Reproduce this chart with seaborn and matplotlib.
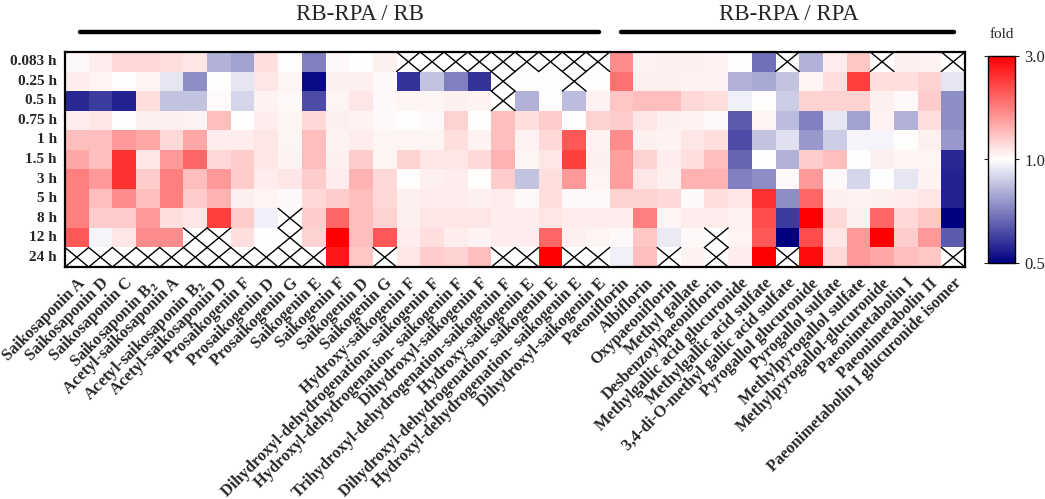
import numpy as np
import pandas as pd
import seaborn as sns
import matplotlib.pyplot as plt
from matplotlib.colors import LinearSegmentedColormap, TwoSlopeNorm
from matplotlib.lines import Line2D

nan = np.nan

times = ["0.083 h", "0.25 h", "0.5 h", "0.75 h", "1 h", "1.5 h", "3 h", "5 h", "8 h", "12 h", "24 h"]

rb_compounds = [
    "Saikosaponin A", "Saikosaponin D", "Saikosaponin C", r"Saikosaponin B$_\mathbf{2}$",
    "Acetyl-saikosaponin A", r"Acetyl-saikosaponin B$_\mathbf{2}$", "Acetyl-saikosaponin D",
    "Prosaikogenin F", "Prosaikogenin D", "Prosaikogenin G", "Saikogenin E", "Saikogenin F",
    "Saikogenin D", "Saikogenin G", "Hydroxy-saikogenin F",
    "Dihydroxyl-dehydrogenation- saikogenin F", "Hydroxyl-dehydrogenation- saikogenin F",
    "Dihydroxyl-saikogenin F", "Trihydroxyl-dehydrogenation-saikogenin F", "Hydroxy-saikogenin E",
    "Dihydroxyl-dehydrogenation- saikogenin E", "Hydroxyl-dehydrogenation- saikogenin E",
    "Dihydroxyl-saikogenin E",
]
rpa_compounds = [
    "Paeoniflorin", "Albiflorin", "Oxypaeoniflorin", "Methyl gallate", "Desbenzoylpaeoniflorin",
    "Methylgallic acid glucuronide", "Methylgallic acid sulfate",
    "3,4-di-O-methyl gallic acid sulfate", "Pyrogallol glucuronide", "Pyrogallol sulfate",
    "Methylpyrogallol sulfate", "Methylpyrogallol-glucuronide", "Paeonimetabolin I",
    "Paeonimetabolin II", "Paeonimetabolin I glucuronide isomer",
]

# fold change, rows = time points (nan = not detected)
rb_fold = [
    [1.05, 1.15, 1.3, 1.3, 1.25, 1.2, 0.85, 0.82, 1.25, 1.03, 0.75, 1.05, 1.0, 1.12, nan, nan, nan, nan, nan, nan, nan, nan, nan],
    [1.15, 1.08, 1.03, 1.08, 0.95, 0.78, 1.02, 0.95, 1.2, 1.08, 0.52, 1.12, 1.12, 1.05, 0.6, 0.88, 0.75, 0.6, nan, 1.02, 1.03, nan, 1.03],
    [0.58, 0.62, 0.57, 1.25, 0.88, 0.88, 1.04, 0.92, 1.1, 1.05, 0.65, 1.08, 1.2, 1.05, 1.08, 1.08, 1.12, 1.1, nan, 0.85, 1.03, 0.87, 1.1],
    [1.15, 1.2, 1.03, 1.12, 1.12, 1.1, 1.5, 1.0, 1.15, 1.08, 1.3, 1.12, 1.1, 1.05, 1.03, 1.05, 1.35, 1.0, 1.5, 1.25, 1.4, 1.03, 1.35],
    [1.5, 1.5, 1.8, 1.7, 1.3, 1.7, 1.15, 1.15, 1.2, 1.08, 1.5, 1.1, 1.15, 1.08, 1.08, 1.08, 1.25, 1.1, 1.5, 1.1, 1.3, 2.3, 1.1],
    [1.7, 1.5, 2.6, 1.2, 1.8, 2.2, 1.3, 1.4, 1.2, 1.1, 1.5, 1.12, 1.4, 1.08, 1.35, 1.2, 1.2, 1.3, 1.6, 1.08, 1.2, 2.5, 1.12],
    [2.0, 1.8, 2.6, 1.4, 2.0, 1.5, 1.8, 1.4, 1.15, 1.2, 1.4, 1.15, 1.6, 1.3, 1.03, 1.12, 1.15, 1.03, 1.4, 0.88, 1.25, 1.8, 1.08],
    [2.0, 1.5, 1.9, 1.5, 2.0, 1.4, 1.6, 1.12, 1.08, 1.05, 1.3, 1.4, 1.5, 1.3, 1.12, 1.15, 1.15, 1.12, 1.15, 1.05, 1.25, 1.05, 1.05],
    [2.0, 1.4, 1.4, 1.8, 1.25, 1.2, 2.5, 1.4, 0.97, nan, 1.4, 2.2, 1.5, 1.35, 1.12, 1.2, 1.2, 1.2, 1.15, 1.15, 1.2, 1.15, 1.15],
    [2.3, 0.98, 1.2, 1.9, 1.9, nan, nan, 1.25, 1.02, nan, 1.35, 3.0, 1.5, 2.3, 1.15, 1.25, 1.15, 1.1, 1.15, 1.15, 2.2, 1.12, 1.08],
    [nan, nan, nan, nan, nan, nan, nan, nan, nan, nan, nan, 2.8, 1.45, nan, 1.2, 1.4, 1.35, 1.5, nan, nan, 3.0, nan, nan],
]
rpa_fold = [
    [1.9, 1.1, 1.12, 1.12, 1.1, 1.03, 0.72, nan, 0.85, 1.15, 1.45, nan, 1.12, 1.1, nan],
    [2.1, 1.12, 1.12, 1.1, 1.1, 0.85, 0.83, 0.88, 1.08, 1.25, 2.5, 1.25, 1.25, 1.35, 0.95],
    [1.45, 1.5, 1.5, 1.3, 1.25, 0.97, 1.03, 0.9, 1.35, 1.35, 1.35, 1.12, 1.05, 1.4, 0.78],
    [1.4, 1.2, 1.12, 1.1, 1.05, 0.68, 1.08, 0.87, 0.75, 0.95, 0.82, 1.1, 0.85, 1.25, 0.78],
    [1.9, 1.12, 1.1, 1.2, 1.25, 0.65, 0.88, 0.94, 0.8, 0.9, 0.98, 0.98, 1.03, 1.12, 0.8],
    [1.75, 1.35, 1.15, 1.25, 1.5, 0.7, 1.0, 0.85, 1.4, 1.5, 1.0, 1.12, 1.08, 1.08, 0.58],
    [1.75, 1.2, 1.12, 1.6, 1.6, 0.75, 0.78, 1.05, 1.8, 1.05, 0.92, 1.0, 0.95, 1.1, 0.57],
    [1.35, 1.35, 1.3, 1.05, 1.25, 1.2, 2.6, 0.78, 2.2, 1.12, 1.1, 1.12, 1.15, 1.2, 0.57],
    [1.15, 2.0, 1.08, 1.15, 1.15, 1.1, 2.4, 0.62, 3.0, 1.3, 1.12, 2.2, 1.3, 1.45, 0.5],
    [1.05, 1.45, 0.96, 1.05, nan, 1.08, 2.3, 0.5, 2.4, 1.2, 1.8, 3.0, 1.4, 1.8, 0.68],
    [0.97, 1.5, nan, 1.1, nan, 1.15, 3.0, nan, 2.9, 1.3, 1.8, 1.7, 1.5, 1.45, nan],
]

df = pd.DataFrame(np.hstack([np.array(rb_fold), np.array(rpa_fold)]),
                  index=times, columns=rb_compounds + rpa_compounds)

sns.set_style("white")
plt.rcParams['font.family'] = ['Liberation Serif', 'DejaVu Serif']
plt.rcParams['mathtext.fontset'] = 'stix'

W, H = 1045, 499
fig = plt.figure(figsize=(W / 100, H / 100), dpi=100)
ax = fig.add_axes([65 / W, 1 - 267 / H, 900 / W, 215 / H])
cax = fig.add_axes([988 / W, 1 - 263 / H, 27 / W, 207 / H])

cmap = LinearSegmentedColormap.from_list("fold", ["#000080", "#ffffff", "#ff0000"])
norm = TwoSlopeNorm(vmin=0.5, vcenter=1.0, vmax=3.0)

sns.heatmap(df, ax=ax, cmap=cmap, norm=norm, cbar_ax=cax, linewidths=0,
            cbar_kws={"ticks": [0.5, 1.0, 3.0], "format": "%.1f"})

# crosses for missing values
vals = df.values
for i in range(vals.shape[0]):
    for j in range(vals.shape[1]):
        if np.isnan(vals[i, j]):
            ax.plot([j, j + 1], [i, i + 1], color="black", lw=1)
            ax.plot([j, j + 1], [i + 1, i], color="black", lw=1)

for s in ax.spines.values():
    s.set_visible(True)
    s.set_linewidth(1.6)
    s.set_color("black")

ax.tick_params(length=0, pad=6)
ax.set_xlabel("")
ax.set_ylabel("")
ax.set_yticklabels(times, rotation=0, fontsize=11, fontweight="bold")
ax.set_xticklabels(df.columns, rotation=45, ha="right", rotation_mode="anchor",
                   fontsize=11.8, fontweight="bold")

cax.tick_params(labelsize=12, length=3, width=0.8, left=True, right=True, direction="out")
cbar = ax.collections[0].colorbar
cbar.outline.set_linewidth(1)
cbar.outline.set_edgecolor("black")
fig.text(1002 / W, 1 - 35 / H, "fold", ha="center", va="center", fontsize=11)

# group headers
fig.text(360 / W, 1 - 20 / H, "RB-RPA / RB", ha="center", va="baseline", fontsize=16.5)
fig.text(789 / W, 1 - 20 / H, "RB-RPA / RPA", ha="center", va="baseline", fontsize=16.5)
fig.add_artist(Line2D([80 / W, 599 / W], [1 - 32 / H, 1 - 32 / H], color="black", lw=3.2))
fig.add_artist(Line2D([621 / W, 954 / W], [1 - 32 / H, 1 - 32 / H], color="black", lw=3.2))

fig.savefig("out.png", dpi=100)
